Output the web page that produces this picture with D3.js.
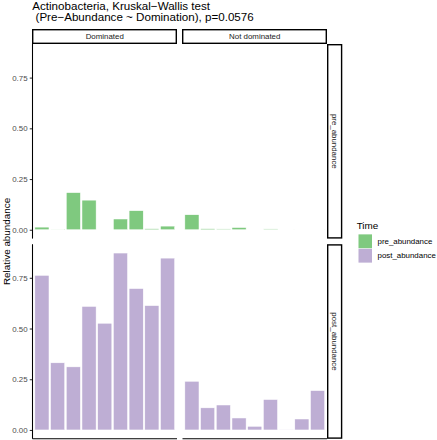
<!DOCTYPE html>
<html>
<head>
<meta charset="utf-8">
<script src="https://cdn.jsdelivr.net/npm/d3@7"></script>
<style>
  html, body { margin: 0; padding: 0; background: #fff; }
  svg { display: block; font-family: "Liberation Sans", Arial, Helvetica, sans-serif; }
</style>
</head>
<body>
<svg id="chart" width="437" height="440"></svg>
<script>
// ---- data ----
const titleLines = ["Actinobacteria, Kruskal\u2212Wallis test", "\u00A0(Pre\u2212Abundance ~ Domination), p=0.0576"];
const panelNames = ["Dominated", "Not dominated"];
const timeLevels = ["pre_abundance", "post_abundance"];
const yTicks = [0, 0.25, 0.5, 0.75];
const samplesDominated = ["D1", "D2", "D3", "D4", "D5", "D6", "D7", "D8", "D9"];
const samplesNotDominated = ["N1", "N2", "N3", "N4", "N5", "N6", "N7", "N8", "N9"];
const preDominated = [0.013, 0.003, 0.183, 0.146, 0, 0.053, 0.094, 0.005, 0.018];
const postDominated = [0.762, 0.331, 0.311, 0.609, 0.526, 0.872, 0.697, 0.613, 0.847];
const preNotDominated = [0.074, 0.005, 0.004, 0.011, 0.002, 0.004, 0.001, 0.001, 0.001];
const postNotDominated = [0.240, 0.109, 0.123, 0.059, 0.018, 0.150, 0.002, 0.054, 0.194];
const colors = ["#7FC97F", "#BEAED4"];
const yTitle = "Relative abundance";
const legendTitle = "Time";

// ---- layout ----
const svg = d3.select("#chart");
const panelX = [32.5, 182.5];
const panelW = 144.5;
const panelY = [44, 244.2];
const panelH = 194.6;
const stripTop = 29;
const stripRightX = 327;
const stripRightW = 15.3;
const smallFont = 7.9;

const samplesByPanel = [samplesDominated, samplesNotDominated];
const valuesByCell = [
  [preDominated, preNotDominated],
  [postDominated, postNotDominated]
];

const allVals = [].concat(preDominated, postDominated, preNotDominated, postNotDominated);
const maxV = d3.max(allVals);
const yDomain = [-0.05 * maxV, 1.05 * maxV];

const color = d3.scaleOrdinal().domain(timeLevels).range(colors);

// title
titleLines.forEach((line, i) => {
  svg.append("text")
    .attr("x", 32.3)
    .attr("y", 9.9 + i * 11.5)
    .attr("font-size", 11.6)
    .attr("fill", "#000")
    .text(line);
});

timeLevels.forEach((t, ri) => {
  const y = d3.scaleLinear().domain(yDomain).range([panelY[ri] + panelH, panelY[ri]]);
  panelNames.forEach((p, ci) => {
    const x = d3.scaleBand().domain(samplesByPanel[ci])
      .range([panelX[ci], panelX[ci] + panelW])
      .paddingInner(0.1).paddingOuter(0.15);
    const vals = valuesByCell[ri][ci];
    const data = samplesByPanel[ci].map((s, k) => ({ s, v: vals[k] }));
    svg.append("g").selectAll("rect").data(data).join("rect")
      .attr("x", d => x(d.s))
      .attr("width", x.bandwidth())
      .attr("y", d => y(Math.max(0, d.v)))
      .attr("height", d => Math.abs(y(0) - y(d.v)))
      .attr("fill", color(t))
      .attr("stroke", "#fff")
      .attr("stroke-width", 0.5);

    // bottom axis line (bottom row only)
    if (ri === timeLevels.length - 1) {
      svg.append("line")
        .attr("x1", panelX[ci]).attr("x2", panelX[ci] + panelW)
        .attr("y1", panelY[ri] + panelH).attr("y2", panelY[ri] + panelH)
        .attr("stroke", "#000").attr("stroke-width", 1.07);
    }
    // left axis (first column only)
    if (ci === 0) {
      const ax = svg.append("g").attr("transform", `translate(${panelX[ci]},0)`)
        .call(d3.axisLeft(y).tickValues(yTicks).tickFormat(d3.format(".2f")).tickSize(2.75).tickPadding(2.2));
      ax.select(".domain").remove();
      ax.selectAll(".tick line").attr("stroke", "#333333").attr("stroke-width", 1.07);
      ax.selectAll(".tick text").attr("fill", "#4D4D4D").attr("font-size", smallFont)
        .attr("font-family", "'Liberation Sans', Arial, sans-serif");
      svg.append("line")
        .attr("x1", panelX[ci]).attr("x2", panelX[ci])
        .attr("y1", panelY[ri]).attr("y2", panelY[ri] + panelH)
        .attr("stroke", "#000").attr("stroke-width", 1.07);
    }
  });
  // right strip
  const sg = svg.append("g");
  sg.append("rect")
    .attr("x", stripRightX + 0.7).attr("y", panelY[ri] + 0.7)
    .attr("width", stripRightW - 1.4).attr("height", panelH - 1.4)
    .attr("fill", "#fff").attr("stroke", "#000").attr("stroke-width", 1.4);
  sg.append("text")
    .attr("transform", `translate(${stripRightX + stripRightW / 2},${panelY[ri] + panelH / 2}) rotate(90)`)
    .attr("text-anchor", "middle").attr("dy", "0.35em")
    .attr("font-size", smallFont).attr("fill", "#1A1A1A")
    .text(t);
});

// top strips
panelNames.forEach((p, ci) => {
  const sg = svg.append("g");
  sg.append("rect")
    .attr("x", panelX[ci] + 0.2).attr("y", stripTop + 0.7)
    .attr("width", panelW - 0.9).attr("height", panelY[0] - stripTop - 1.4)
    .attr("fill", "#fff").attr("stroke", "#000").attr("stroke-width", 1.4);
  sg.append("text")
    .attr("x", panelX[ci] + panelW / 2).attr("y", (stripTop + panelY[0]) / 2)
    .attr("text-anchor", "middle").attr("dy", "0.35em")
    .attr("font-size", smallFont).attr("fill", "#1A1A1A")
    .text(p);
});

// y title
svg.append("text")
  .attr("transform", `translate(9.5,${(panelY[0] + panelY[1] + panelH) / 2}) rotate(-90)`)
  .attr("text-anchor", "middle")
  .attr("font-size", 9.9).attr("fill", "#000")
  .text(yTitle);

// legend
const lg = svg.append("g");
lg.append("text").attr("x", 356.7).attr("y", 228.5).attr("font-size", 9.9).attr("fill", "#000").text(legendTitle);
const keyY = d3.scaleBand().domain(timeLevels).range([233.8, 263.2]).padding(0.04);
lg.selectAll("rect").data(timeLevels).join("rect")
  .attr("x", 358.5).attr("y", d => keyY(d))
  .attr("width", 13.5).attr("height", keyY.bandwidth())
  .attr("fill", d => color(d));
lg.selectAll("text.lab").data(timeLevels).join("text").attr("class", "lab")
  .attr("x", 377.5).attr("y", d => keyY(d) + keyY.bandwidth() / 2)
  .attr("dy", "0.35em")
  .attr("font-size", smallFont).attr("fill", "#000")
  .text(d => d);
</script>
</body>
</html>
